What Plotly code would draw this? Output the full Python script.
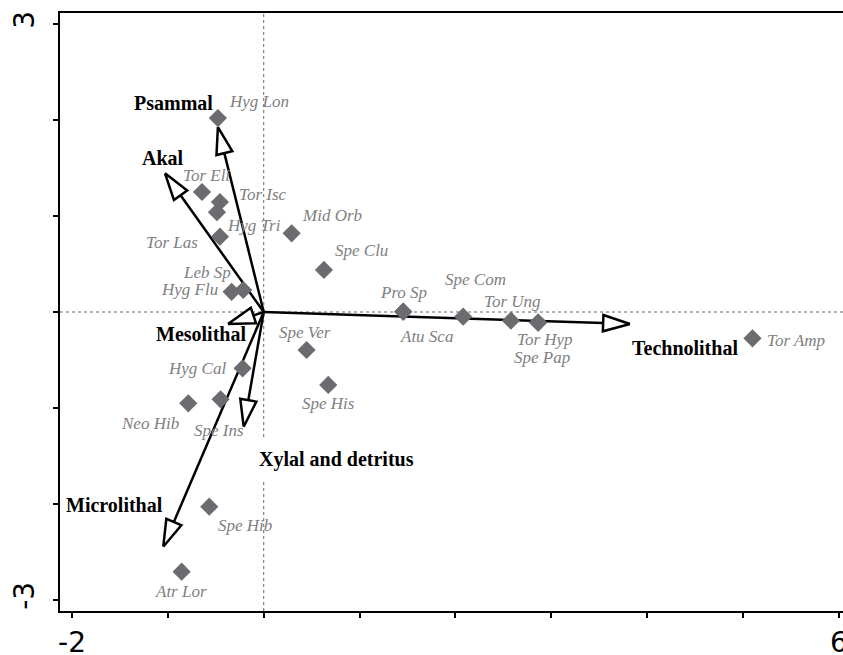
import math
import plotly.graph_objects as go

# ---- data ----
species = ["Hyg Lon", "Tor Eli", "Tor Isc", "Hyg Tri", "Tor Las", "Mid Orb", "Spe Clu",
           "Leb Sp", "Hyg Flu", "Pro Sp", "Atu Sca", "Spe Com", "Tor Ung", "Tor Hyp",
           "Spe Pap", "Tor Amp", "Spe Ver", "Spe His", "Hyg Cal", "Neo Hib", "Spe Ins",
           "Spe Hib", "Atr Lor"]
species_x = [-0.478, -0.644, -0.457, -0.488, -0.457, 0.291, 0.628,
             -0.214, -0.335, 1.455, 1.455, 2.080, 2.578, 2.862,
             2.862, 5.098, 0.447, 0.673, -0.220, -0.787, -0.450,
             -0.568, -0.856]
species_y = [2.020, 1.250, 1.146, 1.040, 0.785, 0.820, 0.438,
             0.229, 0.210, 0.003, 0.003, -0.049, -0.090, -0.110,
             -0.110, -0.274, -0.396, -0.760, -0.587, -0.951, -0.910,
             -2.028, -2.705]

env_vars = ["Psammal", "Akal", "Mesolithal", "Xylal and detritus", "Microlithal", "Technolithal"]
env_x = [-0.478, -1.030, -0.373, -0.209, -1.048, 3.820]
env_y = [1.927, 1.445, -0.125, -1.195, -2.445, -0.125]

x_ticks = [-2, -1, 0, 1, 2, 3, 4, 5, 6]
x_ticktext = ["-2", "", "", "", "", "", "", "", "6"]
y_ticks = [-3, -2, -1, 0, 1, 2, 3]
y_ticktext = ["-3", "", "", "", "", "", "3"]

# ---- label placement (pixel offsets: dx, dy(down), anchor) ----
species_label_pos = {
    "Hyg Lon": (9, -17, "left"), "Tor Eli": (5, -17, "center"), "Tor Isc": (17, -8, "left"),
    "Hyg Tri": (8, 13, "left"), "Tor Las": (-20, 6, "right"), "Mid Orb": (8, -18, "left"),
    "Spe Clu": (9, -19, "left"), "Leb Sp": (-10, -18, "right"), "Hyg Flu": (-12, -2, "right"),
    "Pro Sp": (0, -19, "center"), "Atu Sca": (23, 25, "center"), "Spe Com": (12, -37, "center"),
    "Tor Ung": (2, -19, "center"), "Tor Hyp": (7, 17, "center"), "Spe Pap": (4, 35, "center"),
    "Tor Amp": (12, 2, "left"), "Spe Ver": (-2, -18, "center"), "Spe His": (0, 19, "center"),
    "Hyg Cal": (-15, 0, "right"), "Neo Hib": (-38, 20, "center"), "Spe Ins": (-2, 31, "center"),
    "Spe Hib": (36, 19, "center"), "Atr Lor": (-1, 20, "center"),
}
env_label_pos = {
    "Psammal": (-3, -24, "right"), "Akal": (-2, -15, "center"),
    "Mesolithal": (20, 10, "right"), "Xylal and detritus": (6, 33, "left"),
    "Microlithal": (2, -42, "right"), "Technolithal": (0, 24, "left"),
}

fig = go.Figure()

# dotted zero lines
fig.add_shape(type="line", xref="x", yref="paper", x0=0, x1=0, y0=0, y1=1,
              line=dict(color="#666666", width=1, dash="dot"), layer="below")
fig.add_shape(type="line", xref="paper", yref="y", x0=0, x1=1, y0=0, y1=0,
              line=dict(color="#666666", width=1, dash="dot"), layer="below")

# arrows: shafts and hollow heads
head_len = 0.28
head_half = 0.085
shaft_x, shaft_y, head_x, head_y = [], [], [], []
for tx, ty in zip(env_x, env_y):
    L = math.hypot(tx, ty)
    dx, dy = tx / L, ty / L
    bx, by = tx - head_len * dx, ty - head_len * dy
    nx, ny = -dy, dx
    shaft_x += [0, bx, None]
    shaft_y += [0, by, None]
    head_x += [tx, bx + head_half * nx, bx - head_half * nx, tx, None]
    head_y += [ty, by + head_half * ny, by - head_half * ny, ty, None]

fig.add_trace(go.Scatter(x=shaft_x, y=shaft_y, mode="lines",
                         line=dict(color="black", width=2.5), hoverinfo="skip"))
fig.add_trace(go.Scatter(x=head_x, y=head_y, mode="lines", fill="toself",
                         fillcolor="white", line=dict(color="black", width=2.5),
                         hoverinfo="skip"))

# species points
fig.add_trace(go.Scatter(x=species_x, y=species_y, mode="markers", text=species,
                         marker=dict(symbol="diamond", size=14, color="#6b6b70",
                                     line=dict(width=0))))

annotations = []
for name, x, y in zip(species, species_x, species_y):
    dx, dy, anc = species_label_pos[name]
    annotations.append(dict(x=x, y=y, xref="x", yref="y", text="<i>%s</i>" % name,
                            showarrow=False, xanchor=anc, yanchor="middle",
                            xshift=dx, yshift=-dy,
                            font=dict(family="Liberation Serif", size=17, color="#808080")))
for name, x, y in zip(env_vars, env_x, env_y):
    dx, dy, anc = env_label_pos[name]
    extra = {}
    if name == "Xylal and detritus":
        extra = dict(bgcolor="white", borderpad=8)
    annotations.append(dict(x=x, y=y, xref="x", yref="y", text="<b>%s</b>" % name,
                            showarrow=False, xanchor=anc, yanchor="middle",
                            xshift=dx, yshift=-dy,
                            font=dict(family="Liberation Serif", size=20, color="black"),
                            **extra))

fig.update_layout(
    width=843, height=655,
    margin=dict(l=60, r=0, t=13, b=44),
    plot_bgcolor="white", paper_bgcolor="white",
    showlegend=False,
    annotations=annotations,
    xaxis=dict(range=[-2.125, 6.042], tickvals=x_ticks, ticktext=x_ticktext,
               showgrid=False, zeroline=False, showline=True, linecolor="black",
               linewidth=2, mirror=True, ticks="outside", ticklen=5, tickwidth=2,
               tickcolor="black", automargin=False, ticklabeloverflow="allow",
               tickfont=dict(family="DejaVu Sans", size=28, color="black")),
    yaxis=dict(range=[-3.115, 3.115], tickvals=y_ticks, ticktext=y_ticktext,
               showgrid=False, zeroline=False, showline=True, linecolor="black",
               linewidth=2, mirror=False, ticks="outside", ticklen=5, tickwidth=2,
               tickcolor="black", tickangle=-90, automargin=False,
               ticklabelstandoff=8, ticklabeloverflow="allow",
               tickfont=dict(family="DejaVu Sans", size=28, color="black")),
)

fig.write_html("out.html", config={"displayModeBar": False},
               post_script="document.body.style.margin='0';"
                           "document.body.style.overflow='hidden';")
